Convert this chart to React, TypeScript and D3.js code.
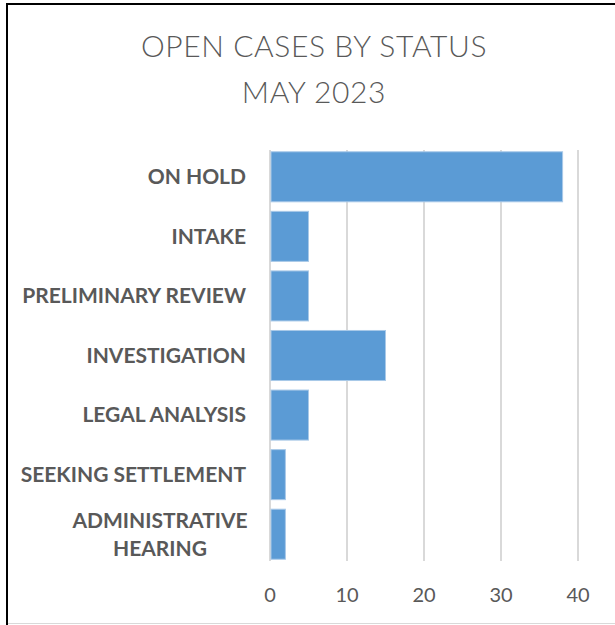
import React from "react";
import * as d3 from "d3";

const categories: string[][] = [
  ["ON HOLD"],
  ["INTAKE"],
  ["PRELIMINARY REVIEW"],
  ["INVESTIGATION"],
  ["LEGAL ANALYSIS"],
  ["SEEKING SETTLEMENT"],
  ["ADMINISTRATIVE", "HEARING"],
];
const values: number[] = [38, 5, 5, 15, 5, 2, 2];
const ticks: number[] = [0, 10, 20, 30, 40];
const titleLines: string[] = ["OPEN CASES BY STATUS", "MAY 2023"];

const W = 615;
const H = 625;
const FONT = "Lato, 'Open Sans', sans-serif";
const GRAY = "#595959";

export default function App() {
  const x = d3.scaleLinear().domain([0, 40]).range([270, 578]);
  const keys = categories.map((c) => c.join(" "));
  const y = d3.scaleBand<string>().domain(keys).range([147, 564]).paddingInner(0.16).paddingOuter(0.08);
  const labelRight = 246;

  return (
    <svg width={W} height={H} style={{ position: "absolute", left: 0, top: 0 }}>
      <rect x={0} y={0} width={W} height={H} fill="#fff" />
      <line x1={7} y1={4} x2={W} y2={4} stroke="#000" strokeWidth={2} />
      <line x1={7} y1={3} x2={7} y2={H} stroke="#000" strokeWidth={2} />
      <line x1={8} y1={623.5} x2={W} y2={623.5} stroke="#d9d9d9" strokeWidth={1} />
      {titleLines.map((t, i) => (
        <text key={t} x={314} y={57 + i * 46} textAnchor="middle" fontFamily={FONT} fontWeight={300}
          fontSize={30} letterSpacing={0.6} fill={GRAY}>{t}</text>
      ))}
      {ticks.map((t) => (
        <line key={"g" + t} x1={x(t)} x2={x(t)} y1={150} y2={561} stroke="#d9d9d9" strokeWidth={2} />
      ))}
      {ticks.map((t) => (
        <text key={"t" + t} x={x(t)} y={602} textAnchor="middle" fontFamily={FONT} fontSize={20} fill={GRAY}>{t}</text>
      ))}
      {keys.map((k, i) => (
        <rect key={"b" + k} x={x(0) + 1} y={y(k)!} width={x(values[i]) - x(0) - 1} height={y.bandwidth()}
          fill="#5b9bd5" stroke="#a9c9e8" strokeWidth={1} />
      ))}
      {categories.map((lines, i) => {
        const cy = y(keys[i])! + y.bandwidth() / 2;
        if (lines.length === 1) {
          return (
            <text key={"l" + i} x={labelRight} y={cy} dy="0.35em" textAnchor="end" fontFamily={FONT}
              fontWeight={700} fontSize={21} fill={GRAY}>{lines[0]}</text>
          );
        }
        const lh = 28;
        const cx = 160;
        return (
          <text key={"l" + i} textAnchor="middle" fontFamily={FONT} fontWeight={700} fontSize={21} fill={GRAY}>
            {lines.map((ln, j) => (
              <tspan key={ln} x={cx} y={cy + (j - (lines.length - 1) / 2) * lh} dy="0.35em">{ln}</tspan>
            ))}
          </text>
        );
      })}
    </svg>
  );
}
